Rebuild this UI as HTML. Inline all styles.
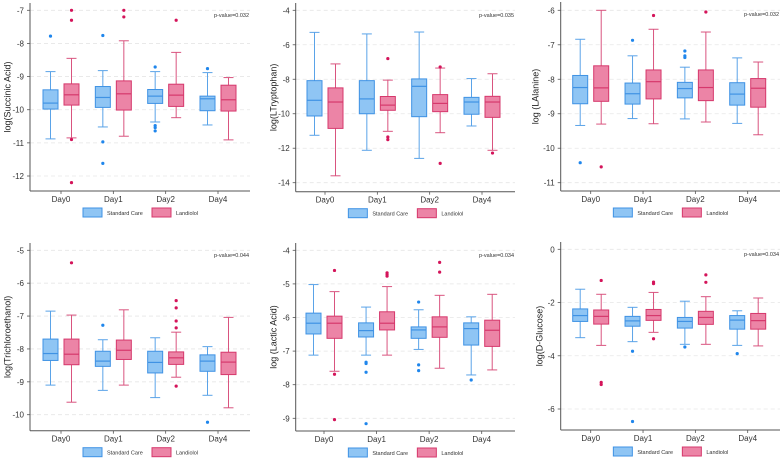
<!DOCTYPE html>
<html><head><meta charset="utf-8">
<style>
html,body{margin:0;padding:0;background:#fff;}
svg{display:block;font-family:"Liberation Sans",Arial,sans-serif;}
</style></head>
<body>
<svg id="chart" width="784" height="459" viewBox="0 0 784 459"></svg>
<script>
const days = ["Day0","Day1","Day2","Day4"];
const groups = ["Standard Care","Landiolol"];
// each box: [lowWhisker, q1, median, q3, highWhisker]
const succinicSC = [[-10.88,-9.98,-9.8,-9.4,-8.85],[-10.52,-9.93,-9.63,-9.3,-8.82],[-10.37,-9.81,-9.59,-9.39,-8.85],[-10.46,-10.03,-9.67,-9.59,-8.88]];
const succinicLan = [[-10.85,-9.86,-9.55,-9.22,-8.45],[-10.8,-10.01,-9.52,-9.13,-7.92],[-10.24,-9.9,-9.56,-9.23,-8.27],[-10.91,-10.04,-9.7,-9.26,-9.03]];
const succinicSCOut = [[-7.78],[-7.76,-10.97,-11.62],[-8.71,-10.48,-10.54,-10.64],[-8.76]];
const succinicLanOut = [[-7.0,-7.3,-10.9,-12.2],[-7.0,-7.2],[-7.3],[]];
const succinicTicks = [-7,-8,-9,-10,-11,-12];

const trpSC = [[-11.25,-10.13,-9.22,-8.08,-5.28],[-12.12,-10.0,-9.14,-8.08,-5.37],[-12.59,-10.17,-8.41,-7.98,-5.26],[-10.71,-10.03,-9.32,-9.05,-7.96]];
const trpLan = [[-13.6,-10.85,-9.32,-8.5,-7.11],[-11.02,-9.8,-9.5,-9.0,-8.05],[-11.1,-9.88,-9.4,-8.89,-7.35],[-12.12,-10.21,-9.32,-8.99,-7.68]];
const trpSCOut = [[],[],[],[]];
const trpLanOut = [[],[-6.8,-11.35,-11.5],[-7.29,-12.88],[-12.28]];
const trpTicks = [-4,-6,-8,-10,-12,-14];

const alaSC = [[-9.34,-8.71,-8.24,-7.89,-6.84],[-9.14,-8.72,-8.42,-8.11,-7.32],[-9.15,-8.54,-8.27,-8.09,-7.65],[-9.28,-8.75,-8.43,-8.1,-7.38]];
const alaLan = [[-9.3,-8.64,-8.25,-7.61,-6.0],[-9.29,-8.57,-8.07,-7.73,-6.55],[-9.24,-8.62,-8.24,-7.73,-6.63],[-9.61,-8.81,-8.26,-7.98,-7.5]];
const alaSCOut = [[-10.42],[-6.87],[-7.18,-7.32,-7.37],[]];
const alaLanOut = [[-10.54],[-6.15],[-6.05],[]];
const alaTicks = [-6,-7,-8,-9,-10,-11];

const tceSC = [[-9.1,-8.35,-8.14,-7.7,-6.85],[-9.26,-8.53,-8.37,-8.07,-7.72],[-9.48,-8.73,-8.41,-8.07,-7.66],[-9.41,-8.68,-8.37,-8.18,-7.93]];
const tceLan = [[-9.62,-8.48,-8.16,-7.7,-6.97],[-9.1,-8.32,-8.04,-7.73,-6.81],[-8.86,-8.47,-8.27,-8.09,-7.49],[-9.79,-8.78,-8.4,-8.1,-7.04]];
const tceSCOut = [[],[-7.28],[],[-10.23]];
const tceLanOut = [[-5.38],[],[-6.53,-6.75,-7.15,-7.36,-9.13],[]];
const tceTicks = [-5,-6,-7,-8,-9,-10];

const lacSC = [[-7.12,-6.49,-6.17,-5.87,-5.02],[-7.12,-6.58,-6.39,-6.16,-5.69],[-6.95,-6.62,-6.37,-6.28,-5.77],[-7.71,-6.82,-6.33,-6.16,-5.98]];
const lacLan = [[-7.6,-6.62,-6.17,-5.96,-5.23],[-7.12,-6.37,-6.17,-5.83,-5.08],[-7.51,-6.59,-6.28,-5.98,-5.34],[-7.56,-6.86,-6.38,-6.08,-5.31]];
const lacSCOut = [[],[-7.33,-7.37,-7.63,-9.16],[-5.54,-7.41,-7.58],[-7.86]];
const lacLanOut = [[-4.6,-7.69,-9.04],[-4.67,-4.72,-4.77],[-4.36,-4.65],[]];
const lacTicks = [-4,-5,-6,-7,-8,-9];

const gluSC = [[-3.32,-2.71,-2.49,-2.24,-1.5],[-3.47,-2.89,-2.69,-2.52,-2.18],[-3.57,-2.96,-2.71,-2.56,-1.95],[-3.61,-3.0,-2.66,-2.49,-2.31]];
const gluLan = [[-3.61,-2.81,-2.52,-2.28,-1.69],[-3.12,-2.67,-2.49,-2.26,-1.62],[-3.57,-2.82,-2.56,-2.33,-1.78],[-3.63,-3.0,-2.68,-2.41,-1.83]];
const gluSCOut = [[],[-3.83,-6.47],[-3.67],[-3.92]];
const gluLanOut = [[-1.17,-5.0,-5.08],[-1.23,-1.29,-3.36],[-0.96,-1.24],[]];
const gluTicks = [0,-2,-4,-6];

const panels = [
  {name:"succinic",title:"log(Succinic Acid)",p:"p-value=0.032",sc:succinicSC,lan:succinicLan,scO:succinicSCOut,lanO:succinicLanOut,ticks:succinicTicks,
   ax:30,right:250,top:3,bottom:191,v0:-7,p0:10.3,v1:-12,p1:176,d0:61,d4:218,lx:8},
  {name:"tryptophan",title:"log(LTryptophan)",p:"p-value=0.035",sc:trpSC,lan:trpLan,scO:trpSCOut,lanO:trpLanOut,ticks:trpTicks,
   ax:295.7,right:515,top:3,bottom:191.7,v0:-4,p0:10.3,v1:-14,p1:182.7,d0:325,d4:482,lx:274},
  {name:"alanine",title:"log (LAlanine)",p:"p-value=0.032",sc:alaSC,lan:alaLan,scO:alaSCOut,lanO:alaLanOut,ticks:alaTicks,
   ax:560.7,right:780,top:2,bottom:191,v0:-6,p0:10.3,v1:-11,p1:182.7,d0:590.7,d4:747.7,lx:536},
  {name:"trichloroethanol",title:"log(Trichloroethanol)",p:"p-value=0.044",sc:tceSC,lan:tceLan,scO:tceSCOut,lanO:tceLanOut,ticks:tceTicks,
   ax:30,right:250,top:243,bottom:430.7,v0:-5,p0:250.3,v1:-10,p1:414.7,d0:61,d4:218,lx:8},
  {name:"lactic",title:"log (Lactic Acid)",p:"p-value=0.034",sc:lacSC,lan:lacLan,scO:lacSCOut,lanO:lacLanOut,ticks:lacTicks,
   ax:295.7,right:515,top:243,bottom:431,v0:-4,p0:250.3,v1:-9,p1:418.3,d0:324,d4:481.7,lx:274},
  {name:"glucose",title:"log(D-Glucose)",p:"p-value=0.034",sc:gluSC,lan:gluLan,scO:gluSCOut,lanO:gluLanOut,ticks:gluTicks,
   ax:560.7,right:780,top:242,bottom:430,v0:0,p0:249.3,v1:-6,p1:409,d0:590.7,d4:747.7,lx:540}
];

const NS="http://www.w3.org/2000/svg";
const svg=document.getElementById('chart');
function mk(tag,attrs,parent){const e=document.createElementNS(NS,tag);for(const k in attrs)e.setAttribute(k,attrs[k]);(parent||svg).appendChild(e);return e;}

const COL = {
  sc:{fill:"#8fc5f4",stroke:"#3f92e4",whisk:"#5aa3e8",out:"#1f86ec"},
  lan:{fill:"#ec84a6",stroke:"#d6386c",whisk:"#d9547f",out:"#d4145a"}
};

panels.forEach(P=>{
  const g=mk('g',{});
  
  
  const y=v=>P.p0+(v-P.v0)*(P.p1-P.p0)/(P.v1-P.v0);
  const step=(P.d4-P.d0)/3;
  const xc=i=>P.d0+i*step;
  // grid & ticks
  P.ticks.forEach(t=>{
    const gl=mk('line',{x1:P.ax,x2:P.right,y1:y(t),y2:y(t),stroke:"#e6e6e6","stroke-width":0.8,"stroke-dasharray":"4,3"},g);
    
    
    mk('line',{x1:P.ax-3,x2:P.ax,y1:y(t),y2:y(t),stroke:"#555","stroke-width":0.8},g);
    const tl=mk('text',{x:P.ax-6,y:y(t)+3,"text-anchor":"end","font-size":8,fill:"#333"},g);
    tl.textContent=t;
    
    
  });
  // axes
  const ya=mk('line',{x1:P.ax,x2:P.ax,y1:P.top,y2:P.bottom,stroke:"#555","stroke-width":1},g);
  
  
  const xa=mk('line',{x1:P.ax,x2:P.right,y1:P.bottom,y2:P.bottom,stroke:"#555","stroke-width":1},g);
  
  
  days.forEach((d,i)=>{
    mk('line',{x1:xc(i),x2:xc(i),y1:P.bottom,y2:P.bottom+3,stroke:"#555","stroke-width":0.8},g);
    const t=mk('text',{x:xc(i),y:P.bottom+11,"text-anchor":"middle","font-size":8,fill:"#333"},g);
    t.textContent=d;
    
    
  });
  // y title
  const yc=(P.top+P.bottom)/2;
  const yt=mk('text',{x:P.lx,y:yc,"text-anchor":"middle","font-size":9,fill:"#222",transform:`rotate(-90 ${P.lx} ${yc})`,"dominant-baseline":"middle"},g);
  yt.textContent=P.title;
  
  
  // p-value
  const pv=mk('text',{x:P.right-1,y:P.top+14,"text-anchor":"end","font-size":5.5,fill:"#333"},g);
  pv.textContent=P.p;
  
  
  // boxes
  [["sc",P.sc,P.scO,-10.5],["lan",P.lan,P.lanO,10.5]].forEach(([key,data,outs,off])=>{
    const c=COL[key];
    data.forEach((b,i)=>{
      const cx=xc(i)+off, w=15, cap=5;
      const bg=mk('g',{},g);
      
      
      mk('line',{x1:cx,x2:cx,y1:y(b[4]),y2:y(b[3]),stroke:c.whisk,"stroke-width":1},bg);
      mk('line',{x1:cx,x2:cx,y1:y(b[1]),y2:y(b[0]),stroke:c.whisk,"stroke-width":1},bg);
      mk('line',{x1:cx-cap,x2:cx+cap,y1:y(b[4]),y2:y(b[4]),stroke:c.whisk,"stroke-width":1},bg);
      mk('line',{x1:cx-cap,x2:cx+cap,y1:y(b[0]),y2:y(b[0]),stroke:c.whisk,"stroke-width":1},bg);
      mk('rect',{x:cx-w/2,y:y(b[3]),width:w,height:y(b[1])-y(b[3]),fill:c.fill,stroke:c.stroke,"stroke-width":1},bg);
      mk('line',{x1:cx-w/2,x2:cx+w/2,y1:y(b[2]),y2:y(b[2]),stroke:c.stroke,"stroke-width":1.2},bg);
      outs[i].forEach(o=>{
        const dot=mk('circle',{cx:cx,cy:y(o),r:1.6,fill:c.out},bg);
        
        
      });
    });
  });
  // legend
  const mid=(P.ax+P.right)/2, ly=P.bottom+17;
  const lg=mk('g',{},g);
  
  
  [[groups[0],COL.sc,mid-57],[groups[1],COL.lan,mid+12]].forEach(([lab,c,x])=>{
    const e=mk('g',{},lg);
    
    
    mk('rect',{x:x,y:ly,width:19,height:9,fill:c.fill,stroke:c.stroke,"stroke-width":1},e);
    const t=mk('text',{x:x+24,y:ly+7,"font-size":5.5,fill:"#333"},e);
    t.textContent=lab;
  });
});
</script>
</body></html>
